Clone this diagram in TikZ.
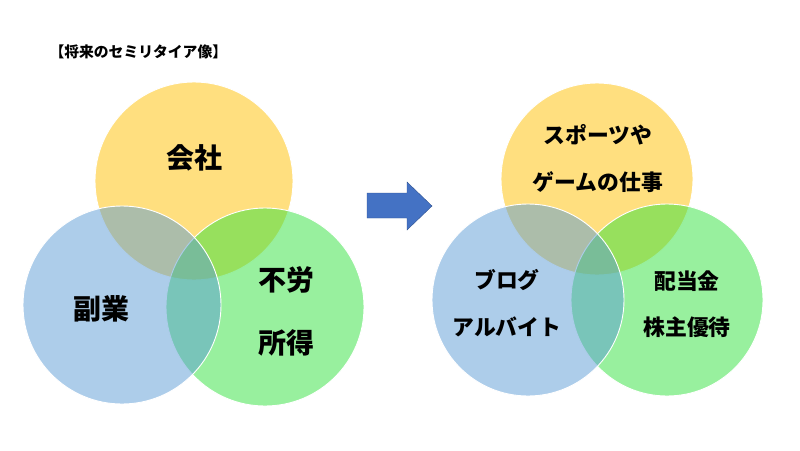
\documentclass[tikz,border=0pt]{standalone}
\usepackage{fontspec}
\setmainfont{Noto Sans CJK JP}
\usepackage{tikz}

\definecolor{kYellow}{RGB}{255,192,0}
\definecolor{kBlue}{RGB}{91,155,213}
\definecolor{kGreen}{RGB}{49,225,61}
\definecolor{kArrow}{RGB}{68,114,196}
\definecolor{kArrowEdge}{RGB}{47,82,143}

\begin{document}
\begin{tikzpicture}[x=1pt, y=-1pt, every node/.style={font=\bfseries},
	venn/.style={circle, draw=white, line width=0.9pt, fill opacity=0.5, inner sep=0pt},
	big/.style={font=\bfseries\fontsize{28}{31}\selectfont},
	small/.style={font=\bfseries\fontsize{21.8}{24}\selectfont}]
	\useasboundingbox (0,0) rectangle (800,450);
	\node[anchor=west, font=\bfseries\fontsize{14.8}{16}\selectfont] (title) at (46,52) {【将来のセミリタイア像】};
	% now
	\node[venn, fill=kYellow, minimum size=198] (kaisha) at (194,181) {};
	\node[venn, fill=kGreen, minimum size=198] (furou) at (265,307) {};
	\node[venn, fill=kBlue, minimum size=198] (fukugyou) at (122,305) {};
	\node[big] (kaishaT) at (194,158) {会社};
	\node[big] (fukugyouT) at (101,309) {副業};
	\node[big] (furouA) at (286,280) {不労};
	\node[big] (furouB) at (286,343) {所得};
	% arrow
	\filldraw[fill=kArrow, draw=kArrowEdge, line width=0.4pt] (367,193) -- (407,193) -- (407,182) -- (432,206) -- (407,230) -- (407,218) -- (367,218) -- cycle;
	% future
	\node[venn, fill=kYellow, minimum size=192] (shigoto) at (597,179) {};
	\node[venn, fill=kGreen, minimum size=192] (haitou) at (667,300) {};
	\node[venn, fill=kBlue, minimum size=192] (blog) at (528,300) {};
	\node[small] (shigotoA) at (598,135) {スポーツや};
	\node[small] (shigotoB) at (598,182) {ゲームの仕事};
	\node[small] (blogA) at (507,280) {ブログ};
	\node[small] (blogB) at (507,327) {アルバイト};
	\node[small] (haitouA) at (687,281) {配当金};
	\node[small] (haitouB) at (687,327) {株主優待};
\end{tikzpicture}
\end{document}
